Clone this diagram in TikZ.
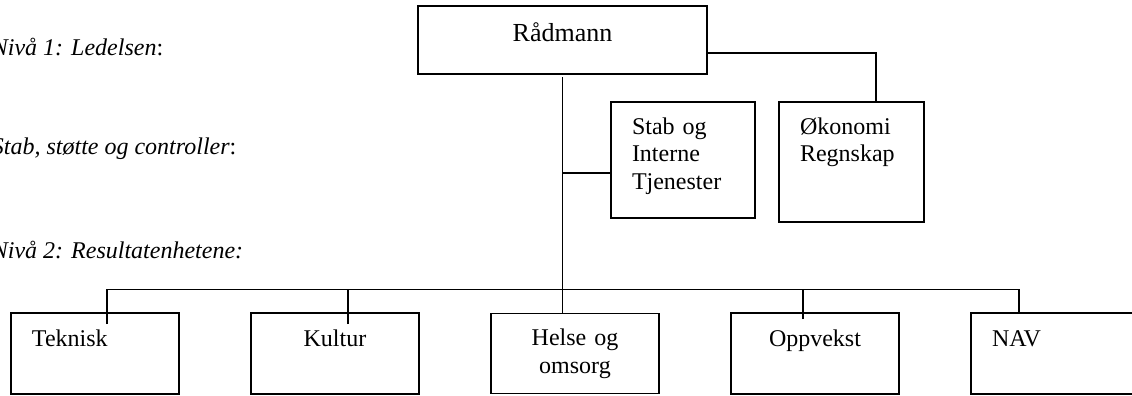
\documentclass[tikz,border=0pt]{standalone}
\usepackage{fontspec}
\setmainfont{Liberation Serif}
\usetikzlibrary{positioning}

\begin{document}
\begin{tikzpicture}[x=0.5pt,y=-0.5pt,line width=0.9pt,node distance=36pt]
	\tikzstyle{boks}=[draw=black,rectangle,inner xsep=10.5pt,inner ysep=0pt,outer sep=0pt,text=black,font=\fontsize{12pt}{13.8pt}\selectfont]
	\tikzstyle{enhet}=[boks,text width=63pt,text height=16.5pt,text depth=24pt,align=center]
	\tikzstyle{stabboks}=[boks,text width=51pt,text height=16pt,align=left]
	\tikzstyle{niva}=[inner sep=0pt,anchor=base west,font=\fontsize{12pt}{13.8pt}\selectfont]
	\useasboundingbox (0,0) rectangle (1132,396);
	\clip (0,0) rectangle (1132,396);
	% nivaene til venstre
	\node[niva] (niva1) at (-9,55)  {\textit{Nivå 1: Ledelsen}:};
	\node[niva] (stabniva) at (-9,155) {\textit{Stab, støtte og controller}:};
	\node[niva] (niva2) at (-9,258) {\textit{Nivå 2: Resultatenhetene:}};
	% boksene
	\node[boks,anchor=north west,text width=123.5pt,text height=17.5pt,text depth=16.5pt,align=center,font=\fontsize{13pt}{15pt}\selectfont] (radmann) at (418,6) {Rådmann};
	\node[stabboks,text depth=42pt,anchor=north west] (stab) at (611,102) {Stab og\\Interne\\Tjenester};
	\node[stabboks,text width=51.5pt,text depth=44pt,anchor=north west] (okonomi) at (779,102) {Økonomi\\Regnskap};
	\node[enhet,align=left,anchor=north west] (teknisk) at (11,313) {Teknisk};
	\node[enhet] (kultur)[right=of teknisk] {Kultur};
	\node[enhet,text height=16pt] (helse)[right=of kultur] {Helse og\\omsorg};
	\node[enhet] (oppvekst)[right=of helse] {Oppvekst};
	\node[enhet,align=left] (nav)[right=of oppvekst] {NAV};
	% grenpunkter
	\coordinate (buss) at ([yshift=12pt]helse.north);
	\coordinate (radgren) at ([yshift=-6.5pt]radmann.east);
	\coordinate (okgren) at ([xshift=12.25pt]okonomi.north);
	\coordinate (stabgren) at ([yshift=-6.5pt]stab.west);
	\coordinate (tekgren) at ([xshift=6pt,yshift=-5.5pt]teknisk.north);
	\coordinate (kulgren) at ([xshift=6.5pt,yshift=-5.5pt]kultur.north);
	\coordinate (oppgren) at ([xshift=-6pt,yshift=-3pt]oppvekst.north);
	\coordinate (navgren) at ([xshift=-18pt]nav.north);
	% linjene
	\draw[shorten <=1.5pt] (radmann.south) -- (radmann.south |- helse.north);
	\draw (radmann.south |- stabgren) -- (stabgren);
	\draw (radgren) -| (okgren);
	\draw (tekgren) -- (tekgren |- buss) -- (navgren |- buss) -- (navgren);
	\draw (kulgren) -- (kulgren |- buss);
	\draw (oppgren) -- (oppgren |- buss);
\end{tikzpicture}
\end{document}
